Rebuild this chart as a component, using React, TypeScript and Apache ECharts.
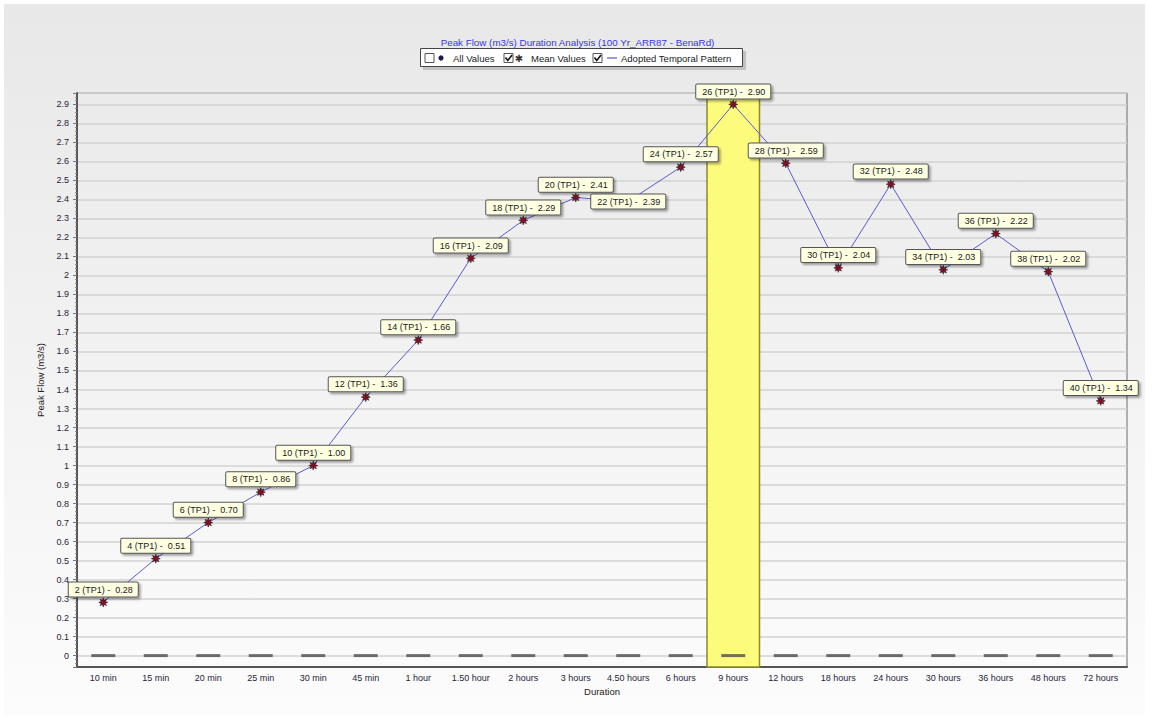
import React, { useEffect, useRef } from 'react';
import * as echarts from 'echarts';

const categories = ['10 min', '15 min', '20 min', '25 min', '30 min', '45 min', '1 hour', '1.50 hour', '2 hours', '3 hours', '4.50 hours', '6 hours', '9 hours', '12 hours', '18 hours', '24 hours', '30 hours', '36 hours', '48 hours', '72 hours'];
const meanValues = [0.28, 0.51, 0.70, 0.86, 1.00, 1.36, 1.66, 2.09, 2.29, 2.41, 2.39, 2.57, 2.90, 2.59, 2.04, 2.48, 2.03, 2.22, 2.02, 1.34];
const tpNumbers = [2, 4, 6, 8, 10, 12, 14, 16, 18, 20, 22, 24, 26, 28, 30, 32, 34, 36, 38, 40];
const allValues = [0, 0, 0, 0, 0, 0, 0, 0, 0, 0, 0, 0, 0, 0, 0, 0, 0, 0, 0, 0];
const highlightedCategories = ['9 hours'];
const labelsPushedDown = ['4.50 hours'];
const titleText = 'Peak Flow (m3/s) Duration Analysis (100 Yr_ARR87 - BenaRd)';
const legendNames = ['All Values', 'Mean Values', 'Adopted Temporal Pattern'];
const yAxisName = 'Peak Flow (m3/s)';
const xAxisName = 'Duration';

const FONT = '"Liberation Sans", Arial, sans-serif';

function starPath(): string {
  const pts: string[] = [];
  for (let i = 0; i < 16; i++) {
    const r = i % 2 === 0 ? 10 : 5;
    const a = (Math.PI / 8) * i - Math.PI / 2;
    pts.push(`${(Math.cos(a) * r).toFixed(2)},${(Math.sin(a) * r).toFixed(2)}`);
  }
  return 'path://M' + pts.join(' L') + ' Z';
}

export default function App() {
  const ref = useRef<HTMLDivElement>(null);
  useEffect(() => {
    if (!ref.current) return;
    const chart = echarts.init(ref.current, undefined, { renderer: 'svg' });
    const star = starPath();

    const lineData = meanValues.map((v, i) => {
      const item: any = { value: v };
      if (labelsPushedDown.includes(categories[i])) {
        item.label = { offset: [0, 13] };
      }
      return item;
    });

    const checkbox = (x: number, y: number, checked: boolean) => {
      const els: any[] = [
        { type: 'rect', shape: { x, y, width: 9, height: 9 }, style: { fill: '#fff', stroke: '#555', lineWidth: 1 } },
      ];
      if (checked) {
        els.push({ type: 'polyline', shape: { points: [[x + 1.5, y + 4], [x + 3.8, y + 7], [x + 8, y + 1.5]] }, style: { stroke: '#111', lineWidth: 1.6, fill: null } });
      }
      return els;
    };

    const legendY = 58;
    const legendText = (x: number, t: string) => ({
      type: 'text', x, y: legendY, style: { text: t, fill: '#222', font: `9.5px ${FONT}`, verticalAlign: 'middle' },
    });

    chart.setOption({
      animation: false,
      backgroundColor: '#ffffff',
      title: {
        text: titleText,
        left: 'center',
        top: 32,
        textStyle: { color: '#3535e8', fontSize: 9.8, fontWeight: 'normal', fontFamily: FONT },
      },
      graphic: [
        {
          type: 'rect', z: -10, silent: true,
          shape: { x: 4, y: 4, width: 1141, height: 711 },
          style: {
            fill: new echarts.graphic.LinearGradient(0, 0, 0, 1, [
              { offset: 0, color: '#e8e8e8' },
              { offset: 1, color: '#fcfcfc' },
            ]),
          },
        },
        { type: 'rect', shape: { x: 423, y: 51, width: 323, height: 19 }, style: { fill: '#9a9a9a', opacity: 0.5 } },
        { type: 'rect', shape: { x: 420.5, y: 48.5, width: 322, height: 18 }, style: { fill: '#ffffff', stroke: '#444', lineWidth: 1 } },
        ...checkbox(425, 53.5, false),
        { type: 'circle', shape: { cx: 441, cy: legendY, r: 2.6 }, style: { fill: '#1a1a4a' } },
        legendText(453, legendNames[0]),
        ...checkbox(504, 53.5, true),
        { type: 'text', x: 519, y: legendY + 0.5, style: { text: '✱', fill: '#333', font: `10px "DejaVu Sans"`, align: 'center', verticalAlign: 'middle' } },
        legendText(531, legendNames[1]),
        ...checkbox(593, 53.5, true),
        { type: 'line', shape: { x1: 607, y1: legendY, x2: 617, y2: legendY }, style: { stroke: '#5555cc', lineWidth: 1.2 } },
        legendText(621, legendNames[2]),
      ],
      grid: {
        left: 77, right: 28, top: 93, bottom: 52,
        show: true, borderColor: '#6a6a6a', borderWidth: 1, backgroundColor: 'transparent',
        outerBoundsMode: 'none',
      },
      xAxis: {
        type: 'category',
        data: categories,
        boundaryGap: true,
        name: xAxisName,
        nameLocation: 'middle',
        nameGap: 19,
        nameTextStyle: { color: '#222', fontSize: 9.5, fontFamily: FONT },
        axisLine: { onZero: false, lineStyle: { color: '#555', width: 2 } },
        axisTick: { show: false },
        axisLabel: { color: '#1e1e3a', fontSize: 9, fontFamily: FONT, margin: 6, interval: 0 },
        splitLine: { show: false },
      },
      yAxis: {
        type: 'value',
        min: -0.06,
        max: 2.96,
        splitNumber: 30,
        name: yAxisName,
        nameLocation: 'middle',
        nameGap: 28,
        nameTextStyle: { color: '#222', fontSize: 9.5, fontFamily: FONT },
        axisLine: { show: true, onZero: false, lineStyle: { color: '#555', width: 2 } },
        axisTick: { show: true, length: 4, lineStyle: { color: '#777' } },
        minorTick: { show: true, splitNumber: 5, length: 2, lineStyle: { color: '#888' } },
        axisLabel: {
          color: '#1e1e3a', fontSize: 9, fontFamily: FONT, margin: 8,
          formatter: (v: number) => (Math.abs(v * 10 - Math.round(v * 10)) > 1e-6 ? '' : String(Math.round(v * 10) / 10)),
        },
        splitLine: { show: true, lineStyle: { color: '#d2d2d2', width: 1.5 } },
      },
      series: [
        {
          type: 'custom',
          name: 'highlight',
          z: 1,
          silent: true,
          data: highlightedCategories.map((c) => [c]),
          encode: { x: 0 },
          renderItem: (params: any, api: any) => {
            const idx = api.value(0);
            const p = api.coord([idx, 0]);
            const w = api.size([1, 0])[0];
            const cs = params.coordSys;
            return {
              type: 'rect',
              shape: { x: p[0] - w / 2, y: cs.y, width: w, height: cs.height },
              style: { fill: '#fdfb7c', stroke: '#8c8a2a', lineWidth: 1.5 },
            };
          },
        },
        {
          type: 'scatter',
          name: legendNames[0],
          z: 3,
          data: allValues,
          symbol: 'rect',
          symbolSize: [24, 3],
          itemStyle: { color: '#4e4e4e' },
        },
        {
          type: 'line',
          name: legendNames[2],
          z: 4,
          data: lineData,
          symbol: star,
          symbolSize: 9,
          showAllSymbol: true,
          lineStyle: { color: '#5a5ad0', width: 1 },
          itemStyle: { color: '#8a0c22', borderColor: '#222', borderWidth: 0.6 },
          label: {
            show: true,
            position: 'top',
            distance: 1,
            formatter: (p: any) => `${tpNumbers[p.dataIndex]} (TP1) -  ${meanValues[p.dataIndex].toFixed(2)}`,
            color: '#1a1a1a',
            fontSize: 9,
            fontFamily: FONT,
            backgroundColor: '#ffffe2',
            borderColor: '#555',
            borderWidth: 1,
            borderRadius: 1,
            padding: [2, 5, 2, 6],
            lineHeight: 10,
            shadowColor: 'rgba(0,0,0,0.35)',
            shadowOffsetX: 2,
            shadowOffsetY: 2,
            shadowBlur: 2,
          },
        },
      ],
    });
    return () => chart.dispose();
  }, []);
  return <div ref={ref} style={{ position: 'fixed', left: 0, top: 0, width: 1155, height: 719 }} />;
}
